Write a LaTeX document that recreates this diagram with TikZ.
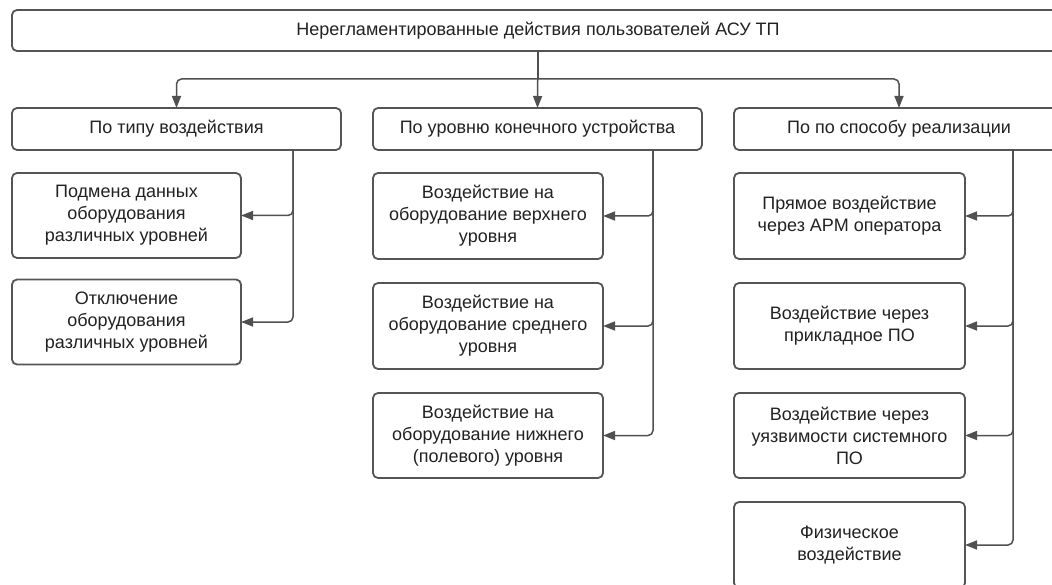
\documentclass[tikz,border=0pt]{standalone}
\usepackage{fontspec}
\setmainfont{Liberation Sans}
\usetikzlibrary{arrows.meta}
\definecolor{boxline}{HTML}{555555}
\definecolor{conline}{HTML}{505050}
\definecolor{txt}{HTML}{222222}
\begin{document}
\begin{tikzpicture}[x=1pt,y=-1pt,
  box/.style={draw=boxline, line width=1.8pt, rounded corners=5pt, fill=white,
    inner sep=0pt, outer sep=0pt, align=center, text=txt,
    font=\fontsize{18}{22}\selectfont},
  conn/.style={draw=conline, line width=1.5pt, rounded corners=5pt,
    -{Triangle[length=12pt,width=9pt]}},
  plain/.style={draw=conline, line width=1.5pt, rounded corners=5pt}]
\useasboundingbox (0,0) rectangle (1052,585);
\fill[white] (0,0) rectangle (1052,585);
% top
\node[box, minimum width=1052pt, minimum height=41pt] (top) at (538,30.5)
  {Нерегламентированные действия пользователей АСУ ТП};
% headers
\node[box, minimum width=329pt, minimum height=42pt] (h1) at (176.5,129) {По типу воздействия};
\node[box, minimum width=329pt, minimum height=42pt] (h2) at (537.5,129) {По уровню конечного устройства};
\node[box, minimum width=330pt, minimum height=42pt] (h3) at (899,129) {По по способу реализации};
% column 1
\node[box, minimum width=229pt, minimum height=85pt] (a1) at (126.5,215.5) {Подмена данных\\оборудования\\различных уровней};
\node[box, minimum width=229pt, minimum height=85pt] (a2) at (126.5,322) {Отключение\\оборудования\\различных уровней};
% column 2
\node[box, minimum width=230pt, minimum height=86pt] (b1) at (488,216) {Воздействие на\\оборудование верхнего\\уровня};
\node[box, minimum width=230pt, minimum height=86pt] (b2) at (488,326) {Воздействие на\\оборудование среднего\\уровня};
\node[box, minimum width=230pt, minimum height=85pt] (b3) at (488,435.5) {Воздействие на\\оборудование нижнего\\(полевого) уровня};
% column 3
\node[box, minimum width=231pt, minimum height=86pt] (c1) at (849.5,216) {Прямое воздействие\\через АРМ оператора};
\node[box, minimum width=231pt, minimum height=86pt] (c2) at (849.5,326) {Воздействие через\\прикладное ПО};
\node[box, minimum width=231pt, minimum height=85pt] (c3) at (849.5,435.5) {Воздействие через\\уязвимости системного\\ПО};
\node[box, minimum width=231pt, minimum height=86pt] (c4) at (849.5,545) {Физическое\\воздействие};
% top connectors
\coordinate (j) at (538,79);
\draw[plain] (top.south) -- (j);
\draw[conn] (j) -| (h1.north);
\draw[conn] (j) -| (h3.north);
\draw[conn] (top.south) -- (h2.north);
% trunks
\coordinate (t1) at (293,0);
\coordinate (t2) at (653,0);
\coordinate (t3) at (1013,0);
\draw[conn] (h1.south -| t1) |- (a1.east);
\draw[conn] (h1.south -| t1) |- (a2.east);
\draw[conn] (h2.south -| t2) |- (b1.east);
\draw[conn] (h2.south -| t2) |- (b2.east);
\draw[conn] (h2.south -| t2) |- (b3.east);
\draw[conn] (h3.south -| t3) |- (c1.east);
\draw[conn] (h3.south -| t3) |- (c2.east);
\draw[conn] (h3.south -| t3) |- (c3.east);
\draw[conn] (h3.south -| t3) |- (c4.east);
\end{tikzpicture}
\end{document}
